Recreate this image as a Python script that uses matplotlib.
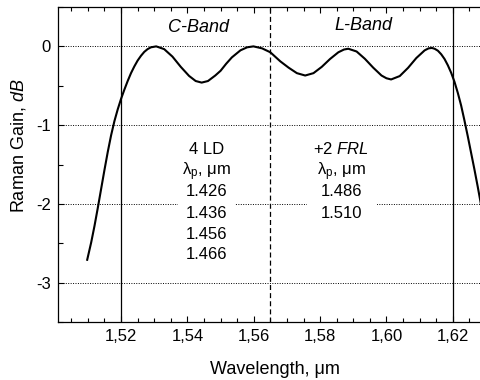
import matplotlib
matplotlib.use("Agg")
import matplotlib.pyplot as plt
from matplotlib.patches import Rectangle
import numpy as np

plt.rcParams['font.family'] = ['Liberation Sans', 'DejaVu Sans']
plt.rcParams['mathtext.fontset'] = 'custom'
plt.rcParams['mathtext.rm'] = 'Liberation Sans'
plt.rcParams['mathtext.it'] = 'Liberation Sans:italic'

# Raman gain curve (wavelength in um, gain in dB)
wavelength = [1.5098, 1.5110, 1.5120, 1.5130, 1.5140, 1.5150, 1.5160, 1.5170,
              1.5180, 1.5190, 1.5200, 1.5210, 1.5220, 1.5230, 1.5240, 1.5250,
              1.5260, 1.5270, 1.5280, 1.5290, 1.5306, 1.5330, 1.5355,
              1.5380, 1.5405, 1.5425, 1.5443, 1.5462, 1.5484, 1.5500, 1.5517,
              1.5534, 1.5560, 1.5580, 1.5599, 1.5625, 1.5650, 1.5680, 1.5705,
              1.5730, 1.5755, 1.5780, 1.5805, 1.5830, 1.5855, 1.5872, 1.5885,
              1.5910, 1.5935, 1.5960, 1.5985, 1.6000, 1.6014, 1.6040, 1.6065,
              1.6090, 1.6115, 1.6127, 1.6137, 1.6145, 1.6155, 1.6165, 1.6175,
              1.6185, 1.6195, 1.6205, 1.6215, 1.6225, 1.6235, 1.6245, 1.6255,
              1.6265, 1.6275, 1.6285, 1.6295, 1.6305]
gain = [-2.71, -2.49, -2.28, -2.05, -1.81, -1.57, -1.34, -1.13,
        -0.95, -0.80, -0.667, -0.55, -0.44, -0.34, -0.255, -0.18,
        -0.12, -0.07, -0.035, -0.012, 0.00, -0.035, -0.13,
        -0.26, -0.375, -0.44, -0.46, -0.44, -0.37, -0.31, -0.22,
        -0.14, -0.05, -0.012, 0.00, -0.025, -0.075, -0.19, -0.27,
        -0.34, -0.37, -0.34, -0.26, -0.16, -0.075, -0.04, -0.03,
        -0.065, -0.158, -0.27, -0.37, -0.405, -0.42, -0.377, -0.273,
        -0.148, -0.051, -0.025, -0.02, -0.03, -0.055, -0.10, -0.16,
        -0.24, -0.335, -0.45, -0.59, -0.75, -0.94, -1.14, -1.35,
        -1.56, -1.78, -2.01, -2.24, -2.47]

band_edges = [1.52, 1.62]
band_split = 1.565
grid_levels = [0, -1, -2, -3]

xtick_vals = [1.52, 1.54, 1.56, 1.58, 1.60, 1.62]
xtick_labels = ['1,52', '1,54', '1,56', '1,58', '1,60', '1,62']
ytick_vals = [0, -1, -2, -3]
ytick_labels = ['0', '-1', '-2', '-3']

ld_lines = ['4 LD', 'λ$_\\mathregular{p}$, μm', '1.426', '1.436', '1.456', '1.466']
frl_lines = ['+2 $\\mathit{FRL}$', 'λ$_\\mathregular{p}$, μm', '1.486', '1.510']

fig = plt.figure(figsize=(4.81, 3.80), dpi=100)
ax = fig.add_axes([58/481, 58/380, 428/481, 315/380])

for g in grid_levels:
    ax.axhline(g, color='black', lw=0.7, ls=(0, (1, 1.5)), zorder=1)
for e in band_edges:
    ax.axvline(e, color='black', lw=0.9, zorder=2)
ax.axvline(band_split, color='black', lw=0.9, ls=(0, (4, 2.5)), zorder=2)

ax.plot(wavelength, gain, color='black', lw=1.5, zorder=4, solid_joinstyle='round')

ax.set_xlim(1.501, 1.63)
ax.set_ylim(-3.5, 0.5)
ax.set_xticks(xtick_vals)
ax.set_xticklabels(xtick_labels)
ax.set_xticks(np.arange(1.505, 1.6301, 0.005), minor=True)
ax.set_yticks(ytick_vals)
ax.set_yticklabels(ytick_labels)
ax.set_yticks(np.arange(-3.5, 0.51, 0.5), minor=True)

ax.tick_params(axis='both', which='both', direction='in', top=True, labelsize=12, width=0.8)
ax.tick_params(axis='both', which='major', length=4.5, pad=5)
ax.tick_params(axis='both', which='minor', length=2.8)
ax.tick_params(axis='y', which='minor', length=3.5)
ax.spines['right'].set_visible(False)
for s in ['left', 'bottom', 'top']:
    ax.spines[s].set_linewidth(0.9)

ax.set_xlabel('Wavelength, μm', fontsize=13)
ax.set_ylabel('Raman Gain, $\\mathit{dB}$', fontsize=13)
ax.xaxis.set_label_coords(0.508, -0.125)
ax.yaxis.set_label_coords(-0.07, 0.56)

ax.text(1.5432, 0.245, 'C-Band', fontsize=13, style='italic', ha='center', va='center')
ax.text(1.593, 0.26, 'L-Band', fontsize=13, style='italic', ha='center', va='center')

# white backgrounds behind the two text blocks (they interrupt the grid line)
ax.add_patch(Rectangle((1.5372, -2.78), 0.0172, 1.66, fc='white', ec='none', zorder=3))
ax.add_patch(Rectangle((1.5760, -2.25), 0.0211, 1.12, fc='white', ec='none', zorder=3))

line_baselines = [-1.372, -1.632, -1.901, -2.175, -2.441, -2.703]
for txt, yb in zip(ld_lines, line_baselines):
    ax.text(1.5459, yb, txt, fontsize=12, ha='center', va='baseline', zorder=5)
for txt, yb in zip(frl_lines, line_baselines):
    ax.text(1.5864, yb, txt, fontsize=12, ha='center', va='baseline', zorder=5)

fig.savefig('out.png', dpi=100)
